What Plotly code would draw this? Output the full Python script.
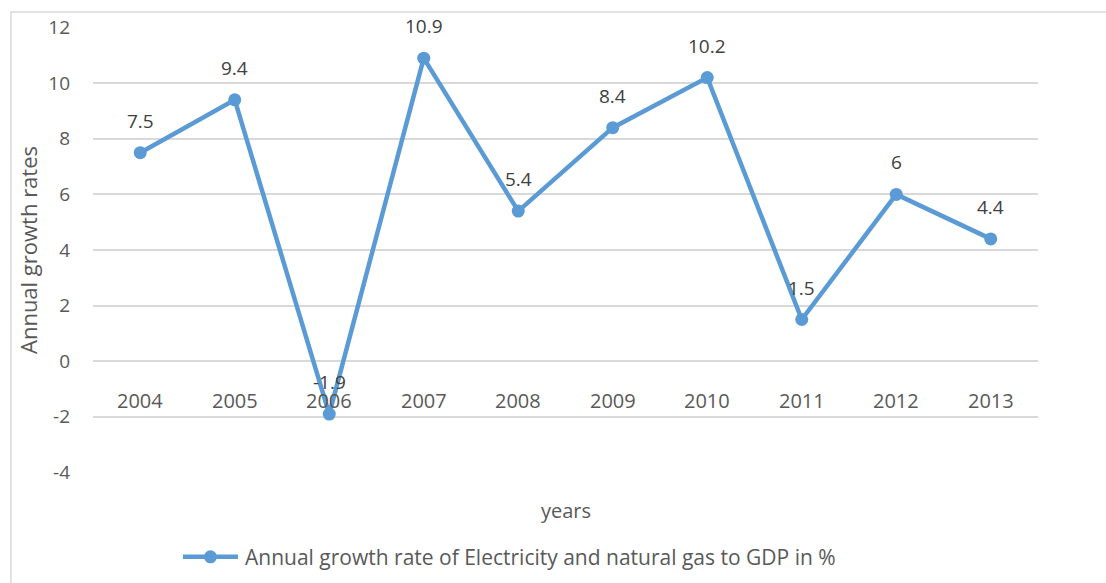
import plotly.graph_objects as go

# Annual growth of the electricity and natural gas sector
years = ["2004", "2005", "2006", "2007", "2008", "2009", "2010", "2011", "2012", "2013"]
growth = [7.5, 9.4, -1.9, 10.9, 5.4, 8.4, 10.2, 1.5, 6, 4.4]
y_ticks = [-4, -2, 0, 2, 4, 6, 8, 10, 12]
series_name = "Annual growth rate of Electricity and natural gas to GDP in %"

LINE = "#5B9BD5"
TEXT = "#595959"
FONT = "Open Sans"

fig = go.Figure()
fig.add_trace(go.Scatter(
    x=list(range(len(years))), y=growth, mode="lines+markers", name=series_name,
    line=dict(color=LINE, width=4.5),
    marker=dict(color=LINE, size=13),
    showlegend=False,
))

annotations = []
# value labels above each point
for i, v in enumerate(growth):
    annotations.append(dict(
        x=i, y=v, text=str(v), showarrow=False, yshift=32,
        xanchor="center", yanchor="middle",
        font=dict(family=FONT, size=19, color="#404040"),
    ))
# category labels sit on the zero line
for i, yr in enumerate(years):
    annotations.append(dict(
        x=i, y=0, text=yr, showarrow=False, yshift=-39,
        xanchor="center", yanchor="middle",
        font=dict(family=FONT, size=20, color=TEXT),
    ))
annotations.append(dict(
    xref="paper", yref="paper", x=0.5, y=-0.085, text="years", showarrow=False,
    xanchor="center", yanchor="middle",
    font=dict(family=FONT, size=20, color=TEXT),
))

# legend key below the plot: a short line with a marker, then the series name
LEG_Y = -0.188
annotations.append(dict(
    xref="paper", yref="paper", x=0.1587, y=LEG_Y, text=series_name, showarrow=False,
    xanchor="left", yanchor="middle",
    font=dict(family=FONT, size=21, color=TEXT),
))
legend_shapes = [
    dict(type="line", xref="paper", yref="paper", x0=0.0952, x1=0.1534, y0=LEG_Y, y1=LEG_Y,
         line=dict(color=LINE, width=4.5)),
    dict(type="circle", xref="paper", yref="paper", xsizemode="pixel", ysizemode="pixel",
         xanchor=0.1243, yanchor=LEG_Y, x0=-6.5, x1=6.5, y0=-6.5, y1=6.5,
         fillcolor=LINE, line=dict(color=LINE, width=0)),
]

frame = dict(type="rect", xref="paper", yref="paper",
             x0=-0.0868, x1=1.2, y0=-0.5, y1=1.0336,
             line=dict(color="#D9D9D9", width=1.5), fillcolor="rgba(0,0,0,0)",
             layer="below")

fig.update_layout(
    width=1106, height=583,
    margin=dict(l=93, r=68, t=27, b=110, autoexpand=False),
    paper_bgcolor="white", plot_bgcolor="white",
    font=dict(family=FONT, color=TEXT),
    showlegend=False,
    xaxis=dict(range=[-0.5, 9.5], showticklabels=False,
               showgrid=False, zeroline=False, showline=False, ticks=""),
    yaxis=dict(range=[-4.02, 12.02], tickvals=y_ticks, ticktext=[str(v) for v in y_ticks],
               showgrid=True, gridcolor="#D9D9D9",
               gridwidth=1.5, zeroline=False, showline=False, ticks="",
               ticklabelstandoff=22,
               tickfont=dict(family=FONT, size=19, color=TEXT),
               title=dict(text="Annual growth rates", standoff=4,
                          font=dict(family=FONT, size=22, color=TEXT))),
    annotations=annotations,
    shapes=[frame] + legend_shapes,
)

fig.write_html("out.html")
